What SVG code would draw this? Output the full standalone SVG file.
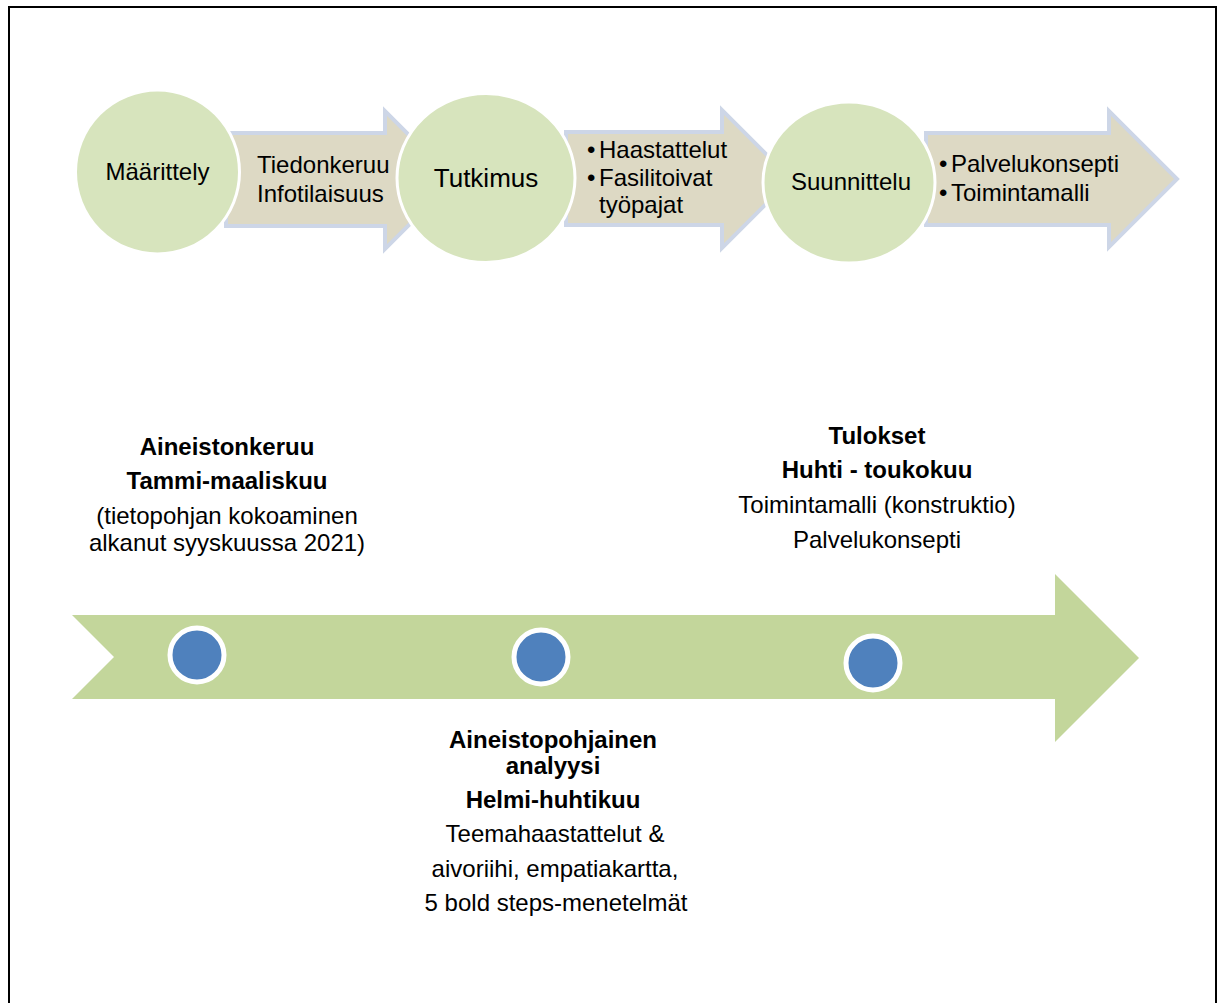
<svg xmlns="http://www.w3.org/2000/svg" width="1224" height="1003" viewBox="0 0 1224 1003">
  <style>
    text { font-family: "Liberation Sans", Arial, sans-serif; fill: #000; }
    .t24 { font-size: 24px; }
    .t26 { font-size: 26px; }
    .b { font-weight: bold; }
    .mid { text-anchor: middle; }
    .phase { fill: #d7e4bd; stroke: #ffffff; stroke-width: 3; }
    .step { fill: #ddd9c4; stroke: #cdd6e7; stroke-width: 4; stroke-linejoin: miter; }
    .band { fill: #c3d69b; }
    .dot { fill: #4f81bd; stroke: #ffffff; stroke-width: 5; }
  </style>

  <rect x="0" y="0" width="1224" height="1003" fill="#ffffff"/>
  <!-- frame -->
  <rect x="9" y="7" width="1207" height="1010" fill="none" stroke="#000" stroke-width="2"/>

  <!-- process arrows between the phases -->
  <g id="connectors">
    <polygon class="step" points="226,133 385,133 385,111 454,180 385,249 385,226 226,226"/>
    <polygon class="step" points="566,132 722,132 722,110 791,179 722,248 722,225 566,225"/>
    <polygon class="step" points="926,133 1109,133 1109,111 1177,179 1109,247 1109,225 926,225"/>
  </g>

  <!-- phases -->
  <g id="phase-maarittely">
    <circle class="phase" cx="157.5" cy="172" r="82"/>
    <text class="t24 mid" x="157.5" y="180">Määrittely</text>
  </g>
  <g id="phase-tutkimus">
    <ellipse class="phase" cx="486" cy="178" rx="89" ry="84.5"/>
    <text class="t26 mid" x="486" y="187">Tutkimus</text>
  </g>
  <g id="phase-suunnittelu">
    <ellipse class="phase" cx="849" cy="182.5" rx="86" ry="80.5"/>
    <text class="t24 mid" x="851" y="190">Suunnittelu</text>
  </g>

  <!-- step labels -->
  <g id="step-1-label">
    <text class="t24" x="257" y="173">Tiedonkeruu</text>
    <text class="t24" x="257" y="202">Infotilaisuus</text>
  </g>
  <g id="step-2-label">
    <text class="t24" x="587" y="158">•</text>
    <text class="t24" x="599" y="158">Haastattelut</text>
    <text class="t24" x="587" y="186">•</text>
    <text class="t24" x="599" y="186">Fasilitoivat</text>
    <text class="t24" x="599" y="213">työpajat</text>
  </g>
  <g id="step-3-label">
    <text class="t24" x="939" y="172">•</text>
    <text class="t24" x="951" y="172">Palvelukonsepti</text>
    <text class="t24" x="939" y="201">•</text>
    <text class="t24" x="951" y="201">Toimintamalli</text>
  </g>

  <!-- timeline -->
  <g id="timeline">
    <polygon class="band" points="72,615 1055,615 1055,574 1139,658 1055,742 1055,699 72,699 114,657"/>
  </g>
  <g id="milestone-1">
    <circle class="dot" cx="197" cy="655" r="27"/>
  </g>
  <g id="milestone-2">
    <circle class="dot" cx="541" cy="657" r="27"/>
  </g>
  <g id="milestone-3">
    <circle class="dot" cx="873" cy="663" r="27"/>
  </g>

  <!-- milestone descriptions -->
  <g id="label-aineistonkeruu">
    <text class="t24 b mid" x="227" y="455">Aineistonkeruu</text>
    <text class="t24 b mid" x="227" y="489">Tammi-maaliskuu</text>
    <text class="t24 mid" x="227" y="524">(tietopohjan kokoaminen</text>
    <text class="t24 mid" x="227" y="551">alkanut syyskuussa 2021)</text>
  </g>
  <g id="label-tulokset">
    <text class="t24 b mid" x="877" y="444">Tulokset</text>
    <text class="t24 b mid" x="877" y="478">Huhti - toukokuu</text>
    <text class="t24 mid" x="877" y="513">Toimintamalli (konstruktio)</text>
    <text class="t24 mid" x="877" y="548">Palvelukonsepti</text>
  </g>
  <g id="label-analyysi">
    <text class="t24 b mid" x="553" y="748">Aineistopohjainen</text>
    <text class="t24 b mid" x="553" y="774">analyysi</text>
    <text class="t24 b mid" x="553" y="808">Helmi-huhtikuu</text>
    <text class="t24 mid" x="555" y="842">Teemahaastattelut &amp;</text>
    <text class="t24 mid" x="555" y="877">aivoriihi, empatiakartta,</text>
    <text class="t24 mid" x="556" y="911">5 bold steps-menetelmät</text>
  </g>
</svg>
